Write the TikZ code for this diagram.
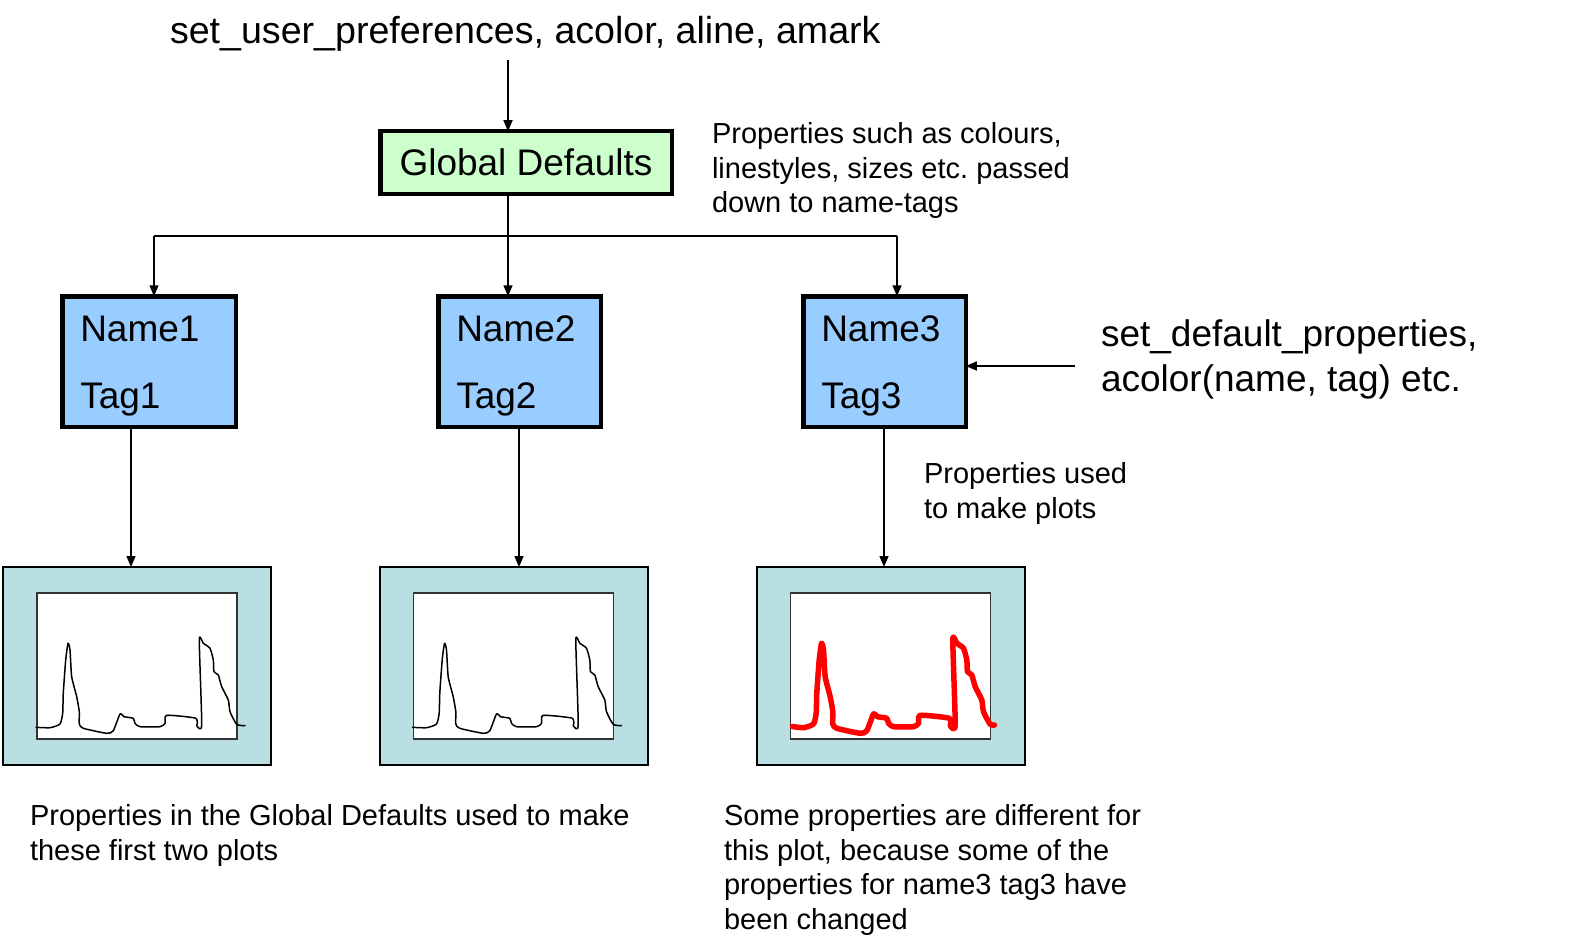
\documentclass[tikz,border=0pt]{standalone}
\usepackage{fontspec}
\setmainfont{Liberation Sans}
\usetikzlibrary{arrows.meta,calc}
\definecolor{gdgreen}{HTML}{CCFFCC}
\definecolor{nmblue}{HTML}{99CCFF}
\definecolor{plotbg}{HTML}{B9DFE3}
\frenchspacing
\begin{document}
\frenchspacing
\begin{tikzpicture}[x=1pt,y=-1pt,
  bigtxt/.style={font=\fontsize{37}{45}\selectfont, inner sep=0pt, outer sep=0pt},
  toptxtstyle/.style={font=\fontsize{37.6}{45}\selectfont, inner sep=0pt, outer sep=0pt},
  smalltxt/.style={font=\fontsize{29}{34.6}\selectfont, inner sep=0pt, outer sep=0pt, align=left, anchor=north west},
  thickbox/.style={draw, line width=4.5pt, inner sep=0pt, outer sep=0pt},
  gdbox/.style={thickbox, fill=gdgreen, bigtxt},
  namebox/.style={thickbox, fill=nmblue, minimum height=130.5pt},
  plotouter/.style={draw, line width=2pt, fill=plotbg, minimum width=268pt, minimum height=198pt, inner sep=0pt, outer sep=0pt},
  plotinner/.style={draw=black!80, line width=1.8pt, fill=white, minimum width=200pt, minimum height=146pt, inner sep=0pt, outer sep=0pt},
  conn/.style={line width=1.5pt},
  arr/.style={conn, -{Triangle[length=11pt,width=9pt]}},
  curveblack/.style={line width=1.5pt, line join=round, line cap=round},
  curvered/.style={line width=5.5pt, red, line join=round, line cap=round}
]
\useasboundingbox (0,0) rectangle (1573,947);
\fill[white] (0,0) rectangle (1573,947);

% texts
\node[toptxtstyle, anchor=base west] (toptxt) at (170,43.5) {set\_user\_preferences, acolor, aline, amark};
\node[smalltxt] (gdnote) at (712,122.5) {Properties such as colours,\\linestyles, sizes etc. passed\\down to name-tags};
\node[bigtxt, anchor=north west, align=left] (sdtxt) at (1101,319.5) {set\_default\_properties,\\acolor(name, tag) etc.};
\node[smalltxt] (usednote) at (924,462.5) {Properties used\\to make plots};
\node[smalltxt] (leftnote) at (30,804.5) {Properties in the Global Defaults used to make\\these first two plots};
\node[smalltxt] (rightnote) at (724,804.5) {Some properties are different for\\this plot, because some of the\\properties for name3 tag3 have\\been changed};

% Global defaults
\node[gdbox, minimum width=291.5pt, minimum height=62.5pt] (gd) at (526,162.5) {Global Defaults};

% name boxes
\node[namebox, minimum width=173.5pt] (n1) at (149,361.5) {};
\node[namebox, minimum width=162.5pt] (n2) at (519.5,361.5) {};
\node[namebox, minimum width=162.5pt] (n3) at (884.5,361.5) {};
\foreach \b/\k in {n1/1,n2/2,n3/3}{
  \node[bigtxt, anchor=base west] (\b name) at ($(\b.north west)+(18,45)$) {Name\k};
  \node[bigtxt, anchor=base west] (\b tag) at ($(\b.north west)+(18,112.5)$) {Tag\k};
}

% plot boxes
\node[plotouter] (p1) at (137,666) {};
\node[plotinner] (p1i) at (137,666) {};
\node[plotouter] (p2) at (513.5,666) {};
\node[plotinner] (p2i) at (513.5,666) {};
\node[plotouter] (p3) at (890.5,666) {};
\node[plotinner] (p3i) at (890.5,666) {};

\def\curvepts{(0,135.3) (14,135.7) (24,132) (26.7,121) (27.3,101) (29.7,68) (32,51.3) (34,58) (35.7,84.7) (40.7,104.7) (43.3,119.7) (43.3,132) (47.3,136.3) (70.7,141.3) (77.3,138.7) (84,122) (88,124.7) (97.3,126.3) (99,131.3) (104,134.7) (124,134.7) (129,131.3) (130.7,123.3) (159,126) (161.3,131.3) (160.7,133.7) (165.7,133) (163.3,48) (167.3,51.3) (174,56.3) (177.3,68) (178,79.7) (182.3,83) (185.7,94.7) (192.3,108) (194,119.7) (200.7,132.3) (209,133.7)}
\def\redpts{(3,134.5) (14,135.7) (24,132) (26.7,121) (27.3,101) (29.7,68) (32,51.3) (34,58) (35.7,84.7) (40.7,104.7) (43.3,119.7) (43.3,132) (47.3,136.3) (70.7,141.3) (77.3,138.7) (84,122) (88,124.7) (97.3,126.3) (99,131.3) (104,134.7) (124,134.7) (129,131.3) (130.7,123.3) (159,126) (161.3,131.3) (160.7,133.7) (165.7,133) (163.3,48) (167.3,51.3) (174,56.3) (177.3,68) (178,79.7) (182.3,83) (185.7,94.7) (192.3,108) (194,119.7) (200.7,132.3) (205,133)}
\begin{scope}[shift={($(p1i.north west)+(-1,-1)$)}]
  \draw[curveblack] plot[smooth, tension=0.35] coordinates {\curvepts};
\end{scope}
\begin{scope}[shift={($(p2i.north west)+(-1,-1)$)}]
  \draw[curveblack] plot[smooth, tension=0.35] coordinates {\curvepts};
\end{scope}
\begin{scope}[shift={($(p3i.north west)+(-1,-1)$)}]
  \draw[curvered] plot[smooth, tension=0.35] coordinates {\redpts};
\end{scope}

% connectors
\coordinate (ta) at (508,60);
\draw[arr] (ta) -- (ta |- gd.north);
\coordinate (bl) at (154,236);
\coordinate (bm) at (508,236);
\coordinate (br) at (897,236);
\draw[conn] (bm |- gd.south) -- (bm);
\draw[conn] (bl) -- (br);
\draw[arr] (bl) -- (bl |- n1.north);
\draw[arr] (bm) -- (bm |- n2.north);
\draw[arr] (br) -- (br |- n3.north);

\coordinate (d1) at (131,500);
\coordinate (d2) at (519,500);
\coordinate (d3) at (884,500);
\draw[arr] (d1 |- n1.south) -- (d1 |- p1.north);
\draw[arr] (d2 |- n2.south) -- (d2 |- p2.north);
\draw[arr] (d3 |- n3.south) -- (d3 |- p3.north);

\coordinate (sd) at (1075,366);
\draw[arr] (sd) -- (sd -| n3.east);
\end{tikzpicture}
\end{document}
